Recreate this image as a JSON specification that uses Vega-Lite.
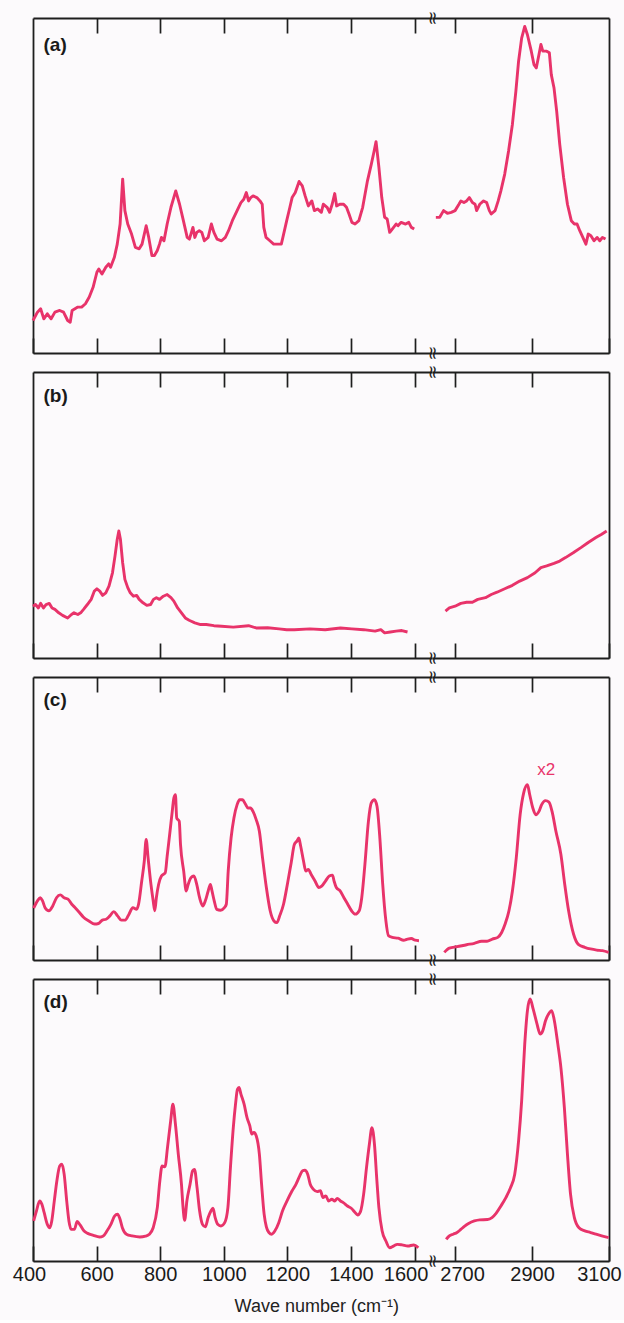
{
  "$schema": "https://vega.github.io/schema/vega-lite/v6.json",
  "background": "#fcfafc",
  "padding": {"left": 12, "top": 10, "right": 2, "bottom": 4},
  "config": {
    "view": {"stroke": null},
    "axis": {"domainColor": "#1e1e1e", "tickColor": "#1e1e1e", "domainWidth": 1.8, "tickWidth": 1.7, "grid": false, "labelFont": "Liberation Sans", "labelFontSize": 20, "labelColor": "#1a1a1a", "format": "d"}
  },
  "title": {"text": "Wave number (cm⁻¹)", "orient": "bottom", "anchor": "middle", "fontSize": 18, "fontWeight": "normal", "font": "Liberation Sans", "color": "#222", "offset": 14},
  "datasets": {
    "a": [{"w":400,"y":9.7},{"w":414,"y":12.2},{"w":424,"y":13.2},{"w":434,"y":10.2},{"w":445,"y":11.7},{"w":457,"y":10.2},{"w":469,"y":12.2},{"w":484,"y":12.7},{"w":496,"y":12.2},{"w":509,"y":9.7},{"w":517,"y":9.2},{"w":523,"y":12.7},{"w":541,"y":13.7},{"w":553,"y":13.7},{"w":565,"y":14.7},{"w":577,"y":16.7},{"w":589,"y":19.6},{"w":601,"y":24.1},{"w":607,"y":25.1},{"w":617,"y":23.6},{"w":629,"y":25.6},{"w":638,"y":26.6},{"w":644,"y":25.6},{"w":656,"y":28.6},{"w":665,"y":32.5},{"w":674,"y":38.5},{"w":682,"y":51.9},{"w":689,"y":42.5},{"w":698,"y":38.5},{"w":710,"y":35.5},{"w":722,"y":31.5},{"w":734,"y":31.1},{"w":743,"y":32.5},{"w":756,"y":38.0},{"w":764,"y":34.5},{"w":774,"y":29.1},{"w":782,"y":29.1},{"w":791,"y":30.6},{"w":798,"y":32.5},{"w":804,"y":34.5},{"w":812,"y":33.5},{"w":822,"y":38.5},{"w":834,"y":43.5},{"w":849,"y":48.4},{"w":861,"y":44.4},{"w":873,"y":39.5},{"w":885,"y":34.5},{"w":892,"y":34.0},{"w":903,"y":37.5},{"w":909,"y":34.5},{"w":915,"y":36.0},{"w":923,"y":36.5},{"w":931,"y":36.0},{"w":939,"y":33.5},{"w":951,"y":34.5},{"w":961,"y":38.5},{"w":969,"y":36.0},{"w":979,"y":34.0},{"w":993,"y":33.5},{"w":1005,"y":34.5},{"w":1015,"y":36.5},{"w":1027,"y":39.5},{"w":1042,"y":42.5},{"w":1054,"y":44.9},{"w":1063,"y":45.9},{"w":1071,"y":47.9},{"w":1078,"y":45.4},{"w":1085,"y":46.4},{"w":1092,"y":46.9},{"w":1104,"y":46.4},{"w":1114,"y":45.4},{"w":1121,"y":44.4},{"w":1126,"y":37.5},{"w":1133,"y":34.5},{"w":1145,"y":33.5},{"w":1157,"y":32.5},{"w":1169,"y":32.5},{"w":1181,"y":32.5},{"w":1186,"y":34.5},{"w":1198,"y":39.5},{"w":1208,"y":43.5},{"w":1215,"y":46.4},{"w":1225,"y":47.9},{"w":1237,"y":51.2},{"w":1247,"y":49.9},{"w":1256,"y":46.9},{"w":1266,"y":43.9},{"w":1277,"y":45.4},{"w":1285,"y":42.5},{"w":1295,"y":43.0},{"w":1307,"y":42.0},{"w":1313,"y":44.4},{"w":1325,"y":43.5},{"w":1333,"y":42.0},{"w":1341,"y":44.4},{"w":1349,"y":47.6},{"w":1355,"y":43.9},{"w":1365,"y":44.4},{"w":1377,"y":44.4},{"w":1386,"y":43.5},{"w":1394,"y":41.5},{"w":1403,"y":39.0},{"w":1413,"y":38.5},{"w":1425,"y":39.5},{"w":1437,"y":43.5},{"w":1452,"y":51.4},{"w":1464,"y":56.3},{"w":1473,"y":60.3},{"w":1479,"y":63.1},{"w":1488,"y":55.4},{"w":1497,"y":46.4},{"w":1506,"y":40.5},{"w":1514,"y":40.0},{"w":1522,"y":36.0},{"w":1530,"y":37.0},{"w":1542,"y":38.5},{"w":1548,"y":38.0},{"w":1558,"y":39.0},{"w":1572,"y":38.5},{"w":1582,"y":39.0},{"w":1590,"y":37.5},{"w":1599,"y":37.0},
      {"w":2650,"y":40.5},{"w":2660,"y":40.5},{"w":2670,"y":42.5},{"w":2680,"y":41.7},{"w":2690,"y":42.0},{"w":2700,"y":42.5},{"w":2710,"y":44.4},{"w":2715,"y":45.4},{"w":2723,"y":44.9},{"w":2730,"y":45.4},{"w":2737,"y":46.4},{"w":2745,"y":44.9},{"w":2752,"y":44.4},{"w":2756,"y":42.5},{"w":2764,"y":44.4},{"w":2774,"y":45.4},{"w":2782,"y":44.9},{"w":2789,"y":42.5},{"w":2794,"y":41.5},{"w":2804,"y":42.5},{"w":2812,"y":45.4},{"w":2819,"y":48.4},{"w":2829,"y":53.4},{"w":2839,"y":60.3},{"w":2849,"y":68.3},{"w":2858,"y":78.2},{"w":2865,"y":87.1},{"w":2873,"y":94.0},{"w":2881,"y":97.5},{"w":2888,"y":95.0},{"w":2898,"y":90.1},{"w":2905,"y":86.1},{"w":2911,"y":85.1},{"w":2918,"y":89.1},{"w":2923,"y":92.1},{"w":2928,"y":90.1},{"w":2938,"y":90.1},{"w":2945,"y":89.6},{"w":2950,"y":83.1},{"w":2957,"y":79.2},{"w":2964,"y":72.2},{"w":2972,"y":62.3},{"w":2982,"y":52.4},{"w":2992,"y":44.4},{"w":3002,"y":39.5},{"w":3010,"y":38.5},{"w":3017,"y":38.5},{"w":3024,"y":36.5},{"w":3032,"y":34.5},{"w":3040,"y":32.5},{"w":3046,"y":35.5},{"w":3053,"y":35.0},{"w":3061,"y":33.5},{"w":3069,"y":34.5},{"w":3076,"y":33.5},{"w":3083,"y":34.5},{"w":3091,"y":34.0}],
    "b": [{"w":400,"y":18.1},{"w":408,"y":18.7},{"w":417,"y":17.5},{"w":424,"y":19.1},{"w":433,"y":17.5},{"w":441,"y":18.7},{"w":451,"y":19.1},{"w":460,"y":17.5},{"w":469,"y":17.0},{"w":481,"y":15.8},{"w":493,"y":14.9},{"w":509,"y":14.0},{"w":521,"y":15.2},{"w":529,"y":15.8},{"w":541,"y":15.2},{"w":550,"y":15.8},{"w":559,"y":17.0},{"w":571,"y":18.7},{"w":583,"y":20.5},{"w":593,"y":23.4},{"w":601,"y":24.2},{"w":610,"y":23.4},{"w":619,"y":21.9},{"w":629,"y":22.8},{"w":639,"y":25.1},{"w":650,"y":29.8},{"w":658,"y":35.7},{"w":665,"y":41.5},{"w":670,"y":44.4},{"w":675,"y":41.5},{"w":682,"y":33.3},{"w":689,"y":27.5},{"w":698,"y":24.6},{"w":706,"y":22.8},{"w":716,"y":21.6},{"w":726,"y":21.9},{"w":734,"y":20.5},{"w":746,"y":19.3},{"w":758,"y":18.4},{"w":770,"y":18.7},{"w":779,"y":20.5},{"w":788,"y":21.1},{"w":798,"y":20.5},{"w":810,"y":21.6},{"w":822,"y":22.2},{"w":834,"y":21.1},{"w":843,"y":19.9},{"w":855,"y":17.5},{"w":867,"y":15.8},{"w":879,"y":14.0},{"w":891,"y":13.2},{"w":909,"y":12.3},{"w":927,"y":11.7},{"w":945,"y":11.7},{"w":969,"y":11.3},{"w":993,"y":11.1},{"w":1030,"y":10.8},{"w":1078,"y":11.3},{"w":1102,"y":10.5},{"w":1138,"y":10.6},{"w":1174,"y":10.2},{"w":1198,"y":9.9},{"w":1222,"y":9.9},{"w":1271,"y":10.2},{"w":1319,"y":9.9},{"w":1367,"y":10.5},{"w":1403,"y":10.2},{"w":1440,"y":9.9},{"w":1476,"y":9.4},{"w":1494,"y":9.9},{"w":1506,"y":8.8},{"w":1524,"y":9.1},{"w":1542,"y":9.4},{"w":1560,"y":9.6},{"w":1578,"y":9.1},
      {"w":2675,"y":16.4},{"w":2685,"y":17.5},{"w":2700,"y":18.1},{"w":2715,"y":19.1},{"w":2730,"y":19.5},{"w":2745,"y":19.5},{"w":2759,"y":20.5},{"w":2779,"y":21.1},{"w":2794,"y":22.2},{"w":2809,"y":23.0},{"w":2829,"y":24.2},{"w":2849,"y":25.4},{"w":2868,"y":26.9},{"w":2888,"y":28.1},{"w":2908,"y":29.8},{"w":2923,"y":31.6},{"w":2938,"y":32.2},{"w":2957,"y":33.1},{"w":2972,"y":33.9},{"w":2987,"y":35.1},{"w":3007,"y":36.8},{"w":3027,"y":38.6},{"w":3046,"y":40.4},{"w":3066,"y":42.1},{"w":3081,"y":43.3},{"w":3094,"y":44.4}],
    "c": [{"w":402,"y":18.3},{"w":414,"y":20.9},{"w":423,"y":22.0},{"w":430,"y":20.9},{"w":438,"y":18.5},{"w":450,"y":17.4},{"w":462,"y":19.1},{"w":474,"y":22.0},{"w":486,"y":23.0},{"w":498,"y":22.0},{"w":510,"y":21.5},{"w":522,"y":19.7},{"w":534,"y":18.3},{"w":546,"y":16.8},{"w":558,"y":15.2},{"w":576,"y":13.8},{"w":594,"y":12.7},{"w":606,"y":12.9},{"w":618,"y":14.1},{"w":630,"y":14.4},{"w":642,"y":15.6},{"w":654,"y":17.1},{"w":666,"y":15.6},{"w":678,"y":14.1},{"w":690,"y":14.1},{"w":702,"y":16.2},{"w":714,"y":18.5},{"w":726,"y":17.9},{"w":732,"y":19.7},{"w":742,"y":27.9},{"w":750,"y":34.9},{"w":756,"y":42.6},{"w":762,"y":36.1},{"w":771,"y":26.7},{"w":778,"y":20.9},{"w":783,"y":17.4},{"w":788,"y":22.0},{"w":795,"y":26.7},{"w":804,"y":29.7},{"w":816,"y":30.8},{"w":822,"y":36.7},{"w":831,"y":45.5},{"w":838,"y":52.5},{"w":843,"y":57.2},{"w":848,"y":58.4},{"w":852,"y":50.2},{"w":860,"y":49.0},{"w":864,"y":40.8},{"w":874,"y":31.4},{"w":882,"y":24.4},{"w":888,"y":26.7},{"w":897,"y":29.1},{"w":906,"y":29.7},{"w":915,"y":26.7},{"w":924,"y":22.0},{"w":934,"y":19.1},{"w":942,"y":20.9},{"w":951,"y":24.4},{"w":958,"y":26.7},{"w":963,"y":24.4},{"w":970,"y":20.9},{"w":978,"y":17.9},{"w":990,"y":17.6},{"w":1002,"y":18.5},{"w":1008,"y":19.7},{"w":1014,"y":31.4},{"w":1023,"y":43.1},{"w":1032,"y":50.2},{"w":1042,"y":54.9},{"w":1050,"y":56.6},{"w":1059,"y":56.6},{"w":1068,"y":55.1},{"w":1076,"y":53.7},{"w":1084,"y":53.7},{"w":1092,"y":52.5},{"w":1102,"y":49.6},{"w":1112,"y":45.5},{"w":1122,"y":36.1},{"w":1134,"y":25.6},{"w":1146,"y":17.4},{"w":1158,"y":13.8},{"w":1167,"y":13.2},{"w":1176,"y":15.6},{"w":1188,"y":19.7},{"w":1200,"y":26.7},{"w":1212,"y":34.3},{"w":1222,"y":40.8},{"w":1230,"y":42.0},{"w":1236,"y":43.1},{"w":1242,"y":40.2},{"w":1251,"y":34.9},{"w":1258,"y":31.4},{"w":1266,"y":32.0},{"w":1275,"y":30.2},{"w":1287,"y":27.9},{"w":1299,"y":25.6},{"w":1308,"y":26.1},{"w":1320,"y":27.9},{"w":1332,"y":29.7},{"w":1342,"y":30.0},{"w":1347,"y":27.9},{"w":1354,"y":25.6},{"w":1366,"y":24.4},{"w":1378,"y":22.0},{"w":1390,"y":19.7},{"w":1402,"y":17.4},{"w":1414,"y":16.2},{"w":1426,"y":17.4},{"w":1434,"y":22.0},{"w":1444,"y":33.8},{"w":1455,"y":49.0},{"w":1464,"y":55.5},{"w":1474,"y":56.6},{"w":1482,"y":54.3},{"w":1491,"y":43.1},{"w":1500,"y":26.7},{"w":1510,"y":13.8},{"w":1518,"y":8.6},{"w":1530,"y":8.0},{"w":1548,"y":7.7},{"w":1566,"y":7.0},{"w":1578,"y":7.4},{"w":1590,"y":7.6},{"w":1602,"y":7.0},{"w":1614,"y":6.8},
      {"w":2672,"y":2.7},{"w":2685,"y":4.2},{"w":2705,"y":4.7},{"w":2730,"y":5.4},{"w":2750,"y":5.9},{"w":2769,"y":6.6},{"w":2783,"y":6.6},{"w":2797,"y":7.4},{"w":2811,"y":8.0},{"w":2821,"y":9.7},{"w":2830,"y":12.7},{"w":2840,"y":17.4},{"w":2849,"y":24.4},{"w":2859,"y":36.1},{"w":2869,"y":51.3},{"w":2878,"y":58.9},{"w":2888,"y":61.9},{"w":2894,"y":58.4},{"w":2902,"y":53.7},{"w":2910,"y":51.3},{"w":2918,"y":52.5},{"w":2925,"y":54.9},{"w":2935,"y":56.3},{"w":2944,"y":55.8},{"w":2952,"y":52.5},{"w":2962,"y":45.5},{"w":2975,"y":37.3},{"w":2985,"y":26.7},{"w":2995,"y":17.4},{"w":3008,"y":9.1},{"w":3021,"y":5.4},{"w":3037,"y":4.5},{"w":3052,"y":3.9},{"w":3068,"y":3.5},{"w":3083,"y":3.3},{"w":3099,"y":2.7}],
    "d": [{"w":402,"y":14.2},{"w":411,"y":17.8},{"w":421,"y":21.3},{"w":428,"y":20.1},{"w":435,"y":17.2},{"w":445,"y":13.0},{"w":453,"y":11.8},{"w":459,"y":14.2},{"w":467,"y":21.3},{"w":475,"y":28.4},{"w":484,"y":33.7},{"w":491,"y":34.3},{"w":498,"y":30.8},{"w":506,"y":21.3},{"w":513,"y":14.2},{"w":520,"y":11.2},{"w":530,"y":11.2},{"w":539,"y":14.0},{"w":548,"y":12.8},{"w":560,"y":10.7},{"w":572,"y":9.8},{"w":590,"y":9.1},{"w":609,"y":8.5},{"w":621,"y":8.9},{"w":633,"y":10.7},{"w":645,"y":13.0},{"w":657,"y":16.0},{"w":666,"y":16.6},{"w":673,"y":15.1},{"w":681,"y":11.8},{"w":694,"y":9.5},{"w":712,"y":8.9},{"w":736,"y":8.5},{"w":754,"y":8.8},{"w":766,"y":9.5},{"w":778,"y":11.8},{"w":791,"y":18.9},{"w":799,"y":28.4},{"w":806,"y":33.7},{"w":815,"y":33.4},{"w":823,"y":40.2},{"w":833,"y":49.7},{"w":840,"y":55.6},{"w":848,"y":48.5},{"w":857,"y":37.9},{"w":867,"y":27.2},{"w":872,"y":18.9},{"w":877,"y":14.4},{"w":884,"y":21.3},{"w":894,"y":27.2},{"w":902,"y":32.0},{"w":908,"y":32.5},{"w":916,"y":26.0},{"w":924,"y":17.8},{"w":933,"y":13.0},{"w":942,"y":12.1},{"w":951,"y":15.4},{"w":960,"y":17.8},{"w":966,"y":18.7},{"w":973,"y":15.4},{"w":981,"y":13.0},{"w":991,"y":12.4},{"w":1003,"y":13.6},{"w":1013,"y":18.9},{"w":1021,"y":33.1},{"w":1030,"y":47.3},{"w":1037,"y":55.6},{"w":1043,"y":60.9},{"w":1048,"y":61.5},{"w":1054,"y":59.2},{"w":1064,"y":55.6},{"w":1073,"y":50.9},{"w":1082,"y":47.9},{"w":1088,"y":45.0},{"w":1095,"y":45.6},{"w":1102,"y":44.4},{"w":1112,"y":37.9},{"w":1119,"y":27.2},{"w":1127,"y":16.6},{"w":1134,"y":12.1},{"w":1142,"y":10.1},{"w":1151,"y":9.5},{"w":1161,"y":10.7},{"w":1173,"y":13.6},{"w":1185,"y":17.8},{"w":1199,"y":21.3},{"w":1215,"y":24.9},{"w":1227,"y":27.2},{"w":1239,"y":30.2},{"w":1248,"y":32.0},{"w":1255,"y":32.2},{"w":1264,"y":30.8},{"w":1272,"y":27.2},{"w":1282,"y":25.4},{"w":1294,"y":24.6},{"w":1304,"y":24.9},{"w":1312,"y":22.5},{"w":1321,"y":23.1},{"w":1330,"y":21.3},{"w":1340,"y":21.9},{"w":1349,"y":21.3},{"w":1357,"y":22.2},{"w":1367,"y":21.3},{"w":1376,"y":20.7},{"w":1389,"y":19.5},{"w":1401,"y":18.7},{"w":1413,"y":17.2},{"w":1421,"y":16.3},{"w":1430,"y":17.5},{"w":1440,"y":23.7},{"w":1449,"y":33.1},{"w":1458,"y":41.4},{"w":1466,"y":47.3},{"w":1474,"y":41.4},{"w":1481,"y":29.6},{"w":1488,"y":18.9},{"w":1498,"y":10.7},{"w":1510,"y":7.1},{"w":1522,"y":4.7},{"w":1534,"y":5.3},{"w":1546,"y":5.9},{"w":1561,"y":5.7},{"w":1579,"y":5.3},{"w":1597,"y":5.7},{"w":1612,"y":4.7},
      {"w":2677,"y":7.7},{"w":2685,"y":8.9},{"w":2695,"y":9.5},{"w":2705,"y":10.1},{"w":2715,"y":11.2},{"w":2725,"y":12.4},{"w":2735,"y":13.3},{"w":2750,"y":14.2},{"w":2764,"y":14.6},{"w":2784,"y":14.7},{"w":2796,"y":15.4},{"w":2806,"y":16.8},{"w":2819,"y":19.5},{"w":2832,"y":22.5},{"w":2844,"y":26.0},{"w":2855,"y":30.8},{"w":2865,"y":42.6},{"w":2873,"y":56.8},{"w":2881,"y":76.9},{"w":2888,"y":88.8},{"w":2895,"y":92.9},{"w":2903,"y":89.3},{"w":2913,"y":84.0},{"w":2921,"y":80.5},{"w":2928,"y":81.7},{"w":2935,"y":85.2},{"w":2943,"y":87.6},{"w":2951,"y":88.8},{"w":2958,"y":85.2},{"w":2967,"y":76.9},{"w":2975,"y":68.6},{"w":2984,"y":54.4},{"w":2992,"y":37.9},{"w":3000,"y":23.7},{"w":3010,"y":15.4},{"w":3022,"y":11.8},{"w":3037,"y":10.7},{"w":3052,"y":10.1},{"w":3066,"y":9.5},{"w":3081,"y":8.9},{"w":3099,"y":8.3}]
  },
  "spacing": 3,
  "vconcat": [
    {
      "spacing": 0, "bounds": "flush",
      "hconcat": [
        {
          "width": 399, "height": 335,
          "resolve": {"axis": {"x": "independent"}},
          "layer": [
            {"data": {"name": "a"}, "transform": [{"filter": "datum.w < 2000"}],
             "mark": {"type": "line", "color": "#e8336a", "strokeWidth": 2.9, "strokeJoin": "round"},
             "encoding": {
               "x": {"field": "w", "type": "quantitative", "scale": {"domain": [400, 1655], "nice": false, "zero": false}, "axis": {"orient": "bottom", "values": [400,600,800,1000,1200,1400,1600], "title": null, "tickSize": -15, "labels": false}},
               "y": {"field": "y", "type": "quantitative", "scale": {"domain": [0, 100], "nice": false, "zero": false}, "axis": {"orient": "left", "title": null, "ticks": false, "labels": false}}}},
            {"data": {"values": [{"w": 433, "y": 92, "t": "(a)"}]},
             "mark": {"type": "text", "align": "left", "baseline": "middle", "font": "Liberation Sans", "fontSize": 19, "fontWeight": "bold", "color": "#1a1a1a"},
             "encoding": {
               "x": {"field": "w", "type": "quantitative", "scale": {"domain": [400, 1655], "nice": false, "zero": false}, "axis": {"orient": "top", "values": [600,800,1000,1200,1400,1600], "title": null, "tickSize": -15, "labels": false}},
               "y": {"field": "y", "type": "quantitative", "scale": {"domain": [0, 100], "nice": false, "zero": false}, "axis": {"orient": "left", "title": null, "ticks": false, "labels": false}},
               "text": {"field": "t"}}}
          ]
        },
        {
          "width": 177, "height": 335,
          "resolve": {"axis": {"x": "independent"}},
          "layer": [
            {"data": {"name": "a"}, "transform": [{"filter": "datum.w > 2000"}],
             "mark": {"type": "line", "color": "#e8336a", "strokeWidth": 2.9, "strokeJoin": "round"},
             "encoding": {
               "x": {"field": "w", "type": "quantitative", "scale": {"domain": [2640, 3100], "nice": false, "zero": false}, "axis": {"orient": "bottom", "values": [2700,2900,3100], "title": null, "tickSize": -15, "labels": false}},
               "y": {"field": "y", "type": "quantitative", "scale": {"domain": [0, 100], "nice": false, "zero": false}, "axis": {"orient": "right", "title": null, "ticks": false, "labels": false}}}},
            {"data": {"values": [{"w": 2640, "y": 100, "t": "≈"}, {"w": 2640, "y": 0, "t": "≈"}]},
             "mark": {"type": "text", "align": "center", "baseline": "middle", "angle": 90, "fontSize": 18, "font": "DejaVu Sans", "color": "#1e1e1e"},
             "encoding": {
               "x": {"field": "w", "type": "quantitative", "scale": {"domain": [2640, 3100], "nice": false, "zero": false}, "axis": {"orient": "top", "values": [2700,2900], "title": null, "tickSize": -15, "labels": false}},
               "y": {"field": "y", "type": "quantitative", "scale": {"domain": [0, 100], "nice": false, "zero": false}, "axis": {"orient": "right", "title": null, "ticks": false, "labels": false}},
               "text": {"field": "t"}}}
          ]
        }
      ]
    },
    {
      "spacing": 0, "bounds": "flush",
      "hconcat": [
        {
          "width": 399, "height": 286,
          "resolve": {"axis": {"x": "independent"}},
          "layer": [
            {"data": {"name": "b"}, "transform": [{"filter": "datum.w < 2000"}],
             "mark": {"type": "line", "color": "#e8336a", "strokeWidth": 2.9, "strokeJoin": "round"},
             "encoding": {
               "x": {"field": "w", "type": "quantitative", "scale": {"domain": [400, 1655], "nice": false, "zero": false}, "axis": {"orient": "bottom", "values": [400,600,800,1000,1200,1400,1600], "title": null, "tickSize": -15, "labels": false}},
               "y": {"field": "y", "type": "quantitative", "scale": {"domain": [0, 100], "nice": false, "zero": false}, "axis": {"orient": "left", "title": null, "ticks": false, "labels": false}}}},
            {"data": {"values": [{"w": 433, "y": 91.5, "t": "(b)"}]},
             "mark": {"type": "text", "align": "left", "baseline": "middle", "font": "Liberation Sans", "fontSize": 19, "fontWeight": "bold", "color": "#1a1a1a"},
             "encoding": {
               "x": {"field": "w", "type": "quantitative", "scale": {"domain": [400, 1655], "nice": false, "zero": false}, "axis": {"orient": "top", "values": [600,800,1000,1200,1400,1600], "title": null, "tickSize": -15, "labels": false}},
               "y": {"field": "y", "type": "quantitative", "scale": {"domain": [0, 100], "nice": false, "zero": false}, "axis": {"orient": "left", "title": null, "ticks": false, "labels": false}},
               "text": {"field": "t"}}}
          ]
        },
        {
          "width": 177, "height": 286,
          "resolve": {"axis": {"x": "independent"}},
          "layer": [
            {"data": {"name": "b"}, "transform": [{"filter": "datum.w > 2000"}],
             "mark": {"type": "line", "color": "#e8336a", "strokeWidth": 2.9, "strokeJoin": "round"},
             "encoding": {
               "x": {"field": "w", "type": "quantitative", "scale": {"domain": [2640, 3100], "nice": false, "zero": false}, "axis": {"orient": "bottom", "values": [2700,2900,3100], "title": null, "tickSize": -15, "labels": false}},
               "y": {"field": "y", "type": "quantitative", "scale": {"domain": [0, 100], "nice": false, "zero": false}, "axis": {"orient": "right", "title": null, "ticks": false, "labels": false}}}},
            {"data": {"values": [{"w": 2640, "y": 100, "t": "≈"}, {"w": 2640, "y": 0, "t": "≈"}]},
             "mark": {"type": "text", "align": "center", "baseline": "middle", "angle": 90, "fontSize": 18, "font": "DejaVu Sans", "color": "#1e1e1e"},
             "encoding": {
               "x": {"field": "w", "type": "quantitative", "scale": {"domain": [2640, 3100], "nice": false, "zero": false}, "axis": {"orient": "top", "values": [2700,2900], "title": null, "tickSize": -15, "labels": false}},
               "y": {"field": "y", "type": "quantitative", "scale": {"domain": [0, 100], "nice": false, "zero": false}, "axis": {"orient": "right", "title": null, "ticks": false, "labels": false}},
               "text": {"field": "t"}}}
          ]
        }
      ]
    },
    {
      "spacing": 0, "bounds": "flush",
      "hconcat": [
        {
          "width": 399, "height": 283,
          "resolve": {"axis": {"x": "independent"}},
          "layer": [
            {"data": {"name": "c"}, "transform": [{"filter": "datum.w < 2000"}],
             "mark": {"type": "line", "color": "#e8336a", "strokeWidth": 2.9, "strokeJoin": "round", "interpolate": "monotone"},
             "encoding": {
               "x": {"field": "w", "type": "quantitative", "scale": {"domain": [400, 1655], "nice": false, "zero": false}, "axis": {"orient": "bottom", "values": [400,600,800,1000,1200,1400,1600], "title": null, "tickSize": -15, "labels": false}},
               "y": {"field": "y", "type": "quantitative", "scale": {"domain": [0, 100], "nice": false, "zero": false}, "axis": {"orient": "left", "title": null, "ticks": false, "labels": false}}}},
            {"data": {"values": [{"w": 433, "y": 92, "t": "(c)"}]},
             "mark": {"type": "text", "align": "left", "baseline": "middle", "font": "Liberation Sans", "fontSize": 19, "fontWeight": "bold", "color": "#1a1a1a"},
             "encoding": {
               "x": {"field": "w", "type": "quantitative", "scale": {"domain": [400, 1655], "nice": false, "zero": false}, "axis": {"orient": "top", "values": [600,800,1000,1200,1400,1600], "title": null, "tickSize": -15, "labels": false}},
               "y": {"field": "y", "type": "quantitative", "scale": {"domain": [0, 100], "nice": false, "zero": false}, "axis": {"orient": "left", "title": null, "ticks": false, "labels": false}},
               "text": {"field": "t"}}}
          ]
        },
        {
          "width": 177, "height": 283,
          "resolve": {"axis": {"x": "independent"}},
          "layer": [
            {"data": {"name": "c"}, "transform": [{"filter": "datum.w > 2000"}],
             "mark": {"type": "line", "color": "#e8336a", "strokeWidth": 2.9, "strokeJoin": "round", "interpolate": "monotone"},
             "encoding": {
               "x": {"field": "w", "type": "quantitative", "scale": {"domain": [2640, 3100], "nice": false, "zero": false}, "axis": {"orient": "bottom", "values": [2700,2900,3100], "title": null, "tickSize": -15, "labels": false}},
               "y": {"field": "y", "type": "quantitative", "scale": {"domain": [0, 100], "nice": false, "zero": false}, "axis": {"orient": "right", "title": null, "ticks": false, "labels": false}}}},
            {"data": {"values": [{"w": 2640, "y": 100, "t": "≈"}, {"w": 2640, "y": 0, "t": "≈"}]},
             "mark": {"type": "text", "align": "center", "baseline": "middle", "angle": 90, "fontSize": 18, "font": "DejaVu Sans", "color": "#1e1e1e"},
             "encoding": {
               "x": {"field": "w", "type": "quantitative", "scale": {"domain": [2640, 3100], "nice": false, "zero": false}, "axis": {"orient": "top", "values": [2700,2900], "title": null, "tickSize": -15, "labels": false}},
               "y": {"field": "y", "type": "quantitative", "scale": {"domain": [0, 100], "nice": false, "zero": false}, "axis": {"orient": "right", "title": null, "ticks": false, "labels": false}},
               "text": {"field": "t"}}},
            {"data": {"values": [{"w": 2937, "y": 67.3, "t": "x2"}]},
             "mark": {"type": "text", "align": "center", "baseline": "middle", "fontSize": 17, "font": "Liberation Sans", "color": "#e8336a"},
             "encoding": {
               "x": {"field": "w", "type": "quantitative", "scale": {"domain": [2640, 3100], "nice": false, "zero": false}, "axis": null},
               "y": {"field": "y", "type": "quantitative", "scale": {"domain": [0, 100], "nice": false, "zero": false}, "axis": {"orient": "right", "title": null, "ticks": false, "labels": false}},
               "text": {"field": "t"}}}
          ]
        }
      ]
    },
    {
      "spacing": 0, "bounds": "flush",
      "hconcat": [
        {
          "width": 399, "height": 282,
          "resolve": {"axis": {"x": "independent"}},
          "layer": [
            {"data": {"name": "d"}, "transform": [{"filter": "datum.w < 2000"}],
             "mark": {"type": "line", "color": "#e8336a", "strokeWidth": 2.9, "strokeJoin": "round", "interpolate": "monotone"},
             "encoding": {
               "x": {"field": "w", "type": "quantitative", "scale": {"domain": [400, 1655], "nice": false, "zero": false}, "axis": {"orient": "bottom", "values": [400,600,800,1000,1200,1400,1600], "title": null, "tickSize": -15, "labels": true, "labelFlush": false, "labelPadding": 18, "labelOverlap": false, "labelOffset": {"expr": "datum.value == 1600 ? -9 : datum.value == 400 ? -4 : 0"}}},
               "y": {"field": "y", "type": "quantitative", "scale": {"domain": [0, 100], "nice": false, "zero": false}, "axis": {"orient": "left", "title": null, "ticks": false, "labels": false}}}},
            {"data": {"values": [{"w": 433, "y": 92, "t": "(d)"}]},
             "mark": {"type": "text", "align": "left", "baseline": "middle", "font": "Liberation Sans", "fontSize": 19, "fontWeight": "bold", "color": "#1a1a1a"},
             "encoding": {
               "x": {"field": "w", "type": "quantitative", "scale": {"domain": [400, 1655], "nice": false, "zero": false}, "axis": {"orient": "top", "values": [600,800,1000,1200,1400,1600], "title": null, "tickSize": -15, "labels": false}},
               "y": {"field": "y", "type": "quantitative", "scale": {"domain": [0, 100], "nice": false, "zero": false}, "axis": {"orient": "left", "title": null, "ticks": false, "labels": false}},
               "text": {"field": "t"}}}
          ]
        },
        {
          "width": 177, "height": 282,
          "resolve": {"axis": {"x": "independent"}},
          "layer": [
            {"data": {"name": "d"}, "transform": [{"filter": "datum.w > 2000"}],
             "mark": {"type": "line", "color": "#e8336a", "strokeWidth": 2.9, "strokeJoin": "round", "interpolate": "monotone"},
             "encoding": {
               "x": {"field": "w", "type": "quantitative", "scale": {"domain": [2640, 3100], "nice": false, "zero": false}, "axis": {"orient": "bottom", "values": [2700,2900,3100], "title": null, "tickSize": -15, "labels": true, "labelFlush": false, "labelPadding": 18, "labelOverlap": false, "labelOffset": {"expr": "datum.value == 2700 ? 7 : datum.value == 3100 ? -10 : 0"}}},
               "y": {"field": "y", "type": "quantitative", "scale": {"domain": [0, 100], "nice": false, "zero": false}, "axis": {"orient": "right", "title": null, "ticks": false, "labels": false}}}},
            {"data": {"values": [{"w": 2640, "y": 100, "t": "≈"}, {"w": 2640, "y": 0, "t": "≈"}]},
             "mark": {"type": "text", "align": "center", "baseline": "middle", "angle": 90, "fontSize": 18, "font": "DejaVu Sans", "color": "#1e1e1e"},
             "encoding": {
               "x": {"field": "w", "type": "quantitative", "scale": {"domain": [2640, 3100], "nice": false, "zero": false}, "axis": {"orient": "top", "values": [2700,2900], "title": null, "tickSize": -15, "labels": false}},
               "y": {"field": "y", "type": "quantitative", "scale": {"domain": [0, 100], "nice": false, "zero": false}, "axis": {"orient": "right", "title": null, "ticks": false, "labels": false}},
               "text": {"field": "t"}}}
          ]
        }
      ]
    }
  ]
}
